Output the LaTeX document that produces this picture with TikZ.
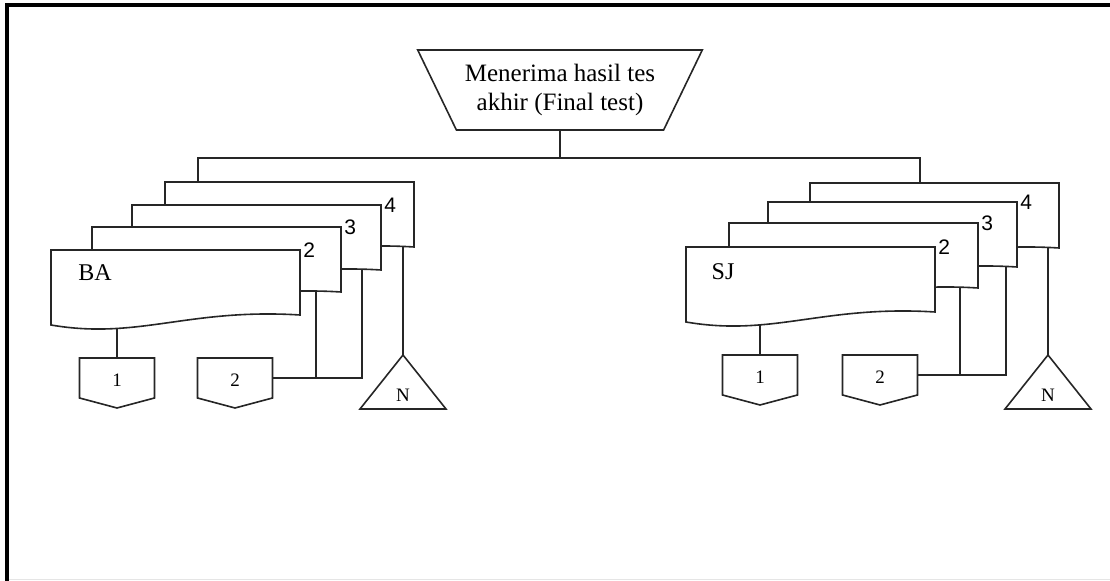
\documentclass[tikz,border=0pt]{standalone}
\usepackage{fontspec}
\setmainfont{Liberation Serif}
\newfontfamily\pgfont{Liberation Sans}
\usetikzlibrary{shapes.geometric}

% document page, top-left corner at (#1,#2), wavy bottom edge
\newcommand{\docpage}[3]{%
  \draw[page] (#1,#2) -- ++(249,0) -- ++(0,65)
    .. controls +(-112,-7) and +(87,15) .. ++(-249,10) -- cycle;
  \coordinate (#3) at (#1,#2);
  \coordinate (#3-ne) at (#1+249,#2);
  \coordinate (#3-s) at (#1+66,#2+78.4);
}
% off-page connector, top middle at (#1,#2)
\newcommand{\offpage}[4]{%
  \draw[page] (#1-37.5,#2) -- ++(75,0) -- ++(0,40) -- ++(-37.5,10) -- ++(-37.5,-10) -- cycle;
  \coordinate (#3) at (#1,#2);
  \coordinate (#3-e) at (#1+37.5,#2+20);
  \node[conn] (#3-t) at (#1,#2+22) {#4};
}
% merge triangle, apex at (#1,#2)
\newcommand{\mergetri}[4]{%
  \draw[page] (#1,#2) -- ++(43,54) -- ++(-86,0) -- cycle;
  \coordinate (#3) at (#1,#2);
  \node[conn] (#3-t) at (#1,#2+40) {#4};
}

\begin{document}
\begin{tikzpicture}[x=0.5pt, y=-0.5pt,
    page/.style={draw=black!85, fill=white, line width=0.8pt},
    wire/.style={draw=black!85, line width=0.8pt},
    conn/.style={font=\fontsize{9.5}{10}\selectfont, inner sep=0pt},
    pgno/.style={font=\pgfont\fontsize{10.5}{11}\selectfont, anchor=west, inner sep=1.5pt},
    doctext/.style={font=\fontsize{12}{14}\selectfont, inner sep=0pt},
    title/.style={trapezium, trapezium angle=55.5, shape border rotate=180,
      trapezium stretches=true, draw=black!85, line width=0.8pt,
      minimum width=142.5pt, minimum height=40pt, inner sep=0pt, align=center,
      font=\fontsize{12.5}{14.5}\selectfont},
  ]
  \useasboundingbox (0,0) rectangle (1110,581);
  % frame
  \draw[line width=2pt] (7,581) -- (7,5) -- (1110,5);
  \draw[gray!20, line width=0.5pt] (9,580) -- (1110,580);

  \node[title] (ttl) at (560,90) {Menerima hasil tes\\akhir (Final test)};

  % left stack: BA
  \docpage{165}{182}{a4}
  \docpage{132}{205}{a3}
  \docpage{92}{227}{a2}
  \docpage{51}{250}{a1}
  \node[pgno] (a1-no) at (a1-ne) {2};
  \node[pgno] (a2-no) at (a2-ne) {3};
  \node[pgno] (a3-no) at (a3-ne) {4};
  \node[doctext] (a1-txt) at (95,273) {BA};
  \offpage{117}{358}{oa1}{1}
  \offpage{235}{358}{oa2}{2}
  \mergetri{403}{355}{na}{N}

  % right stack: SJ
  \docpage{810}{183}{b4}
  \docpage{768}{202}{b3}
  \docpage{729}{223}{b2}
  \docpage{686}{247}{b1}
  \node[pgno] (b1-no) at (b1-ne) {2};
  \node[pgno] (b2-no) at (b2-ne) {3};
  \node[pgno] (b3-no) at (b3-ne) {4};
  \node[doctext] (b1-txt) at (723,272) {SJ};
  \offpage{760}{355}{ob1}{1}
  \offpage{880}{355}{ob2}{2}
  \mergetri{1048}{355}{nb}{N}

  % bus from the title down to both stacks
  \coordinate (bus) at (560,158);
  \coordinate (a4-t) at (198,182);
  \coordinate (b4-t) at (920,183);
  \draw[wire] (ttl.south) -- (bus);
  \draw[wire] (a4-t) |- (bus) -| (b4-t);

  % page outputs, left
  \coordinate (a2-d) at (316,292);
  \coordinate (a3-d) at (362,269);
  \coordinate (a4-d) at (403,247);
  \draw[wire] (oa1) -- (oa1 |- a1-s);
  \draw[wire] (oa2-e) -| (a3-d);
  \draw[wire] (a2-d) -- (a2-d |- oa2-e);
  \draw[wire] (a4-d) -- (na);

  % page outputs, right
  \coordinate (b2-d) at (960,288);
  \coordinate (b3-d) at (1006,267);
  \coordinate (b4-d) at (1048,247);
  \draw[wire] (ob1) -- (ob1 |- b1-s);
  \draw[wire] (ob2-e) -| (b3-d);
  \draw[wire] (b2-d) -- (b2-d |- ob2-e);
  \draw[wire] (b4-d) -- (nb);
\end{tikzpicture}
\end{document}
